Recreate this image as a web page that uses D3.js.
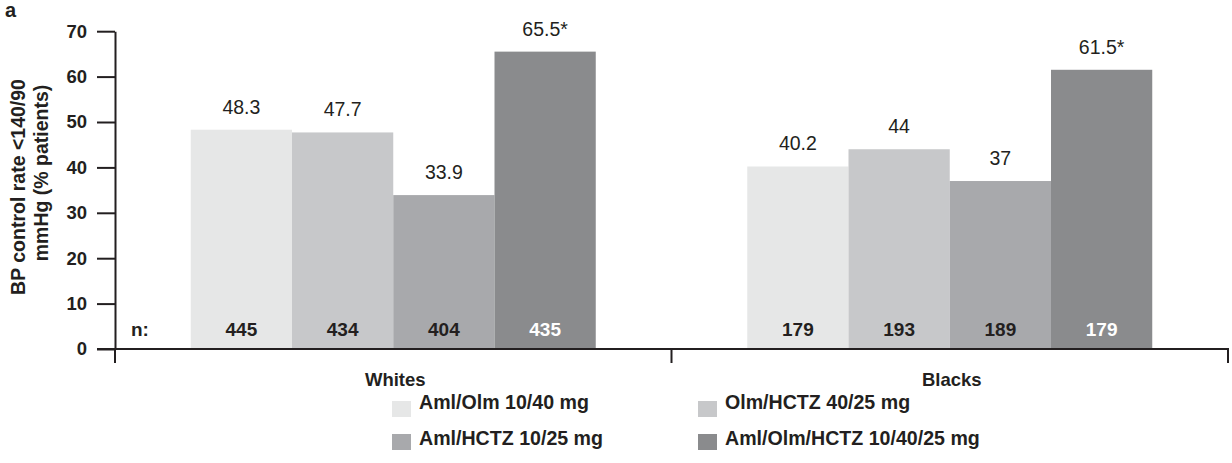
<!DOCTYPE html>
<html>
<head>
<meta charset="utf-8">
<script src="https://cdn.jsdelivr.net/npm/d3@7"></script>
<style>
  html, body { margin: 0; padding: 0; background: #fff; }
  svg { display: block; font-family: "Liberation Sans", Arial, Helvetica, sans-serif; }
</style>
</head>
<body>
<svg id="chart" width="1232" height="463"></svg>
<script>
// Blood-pressure control rate by race and treatment arm
const groups = ["Whites", "Blacks"];
const treatments = ["Aml/Olm 10/40 mg", "Olm/HCTZ 40/25 mg", "Aml/HCTZ 10/25 mg", "Aml/Olm/HCTZ 10/40/25 mg"];
const rateWhites = [48.3, 47.7, 33.9, 65.5];
const rateBlacks = [40.2, 44, 37, 61.5];
const nWhites = [445, 434, 404, 435];
const nBlacks = [179, 193, 189, 179];
const significance = ["", "", "", "*"];
const yTicks = [0, 10, 20, 30, 40, 50, 60, 70];
const colors = ["#e6e7e7", "#c7c8ca", "#a8a9ac", "#8a8b8d"];

const rows = groups.map((g, gi) => ({
  group: g,
  values: treatments.map((t, ti) => ({
    group: g,
    treatment: t,
    ti: ti,
    rate: gi === 0 ? rateWhites[ti] : rateBlacks[ti],
    n: gi === 0 ? nWhites[ti] : nBlacks[ti],
    mark: significance[ti]
  }))
}));

const ink = "#231f20";
const svg = d3.select("#chart");

const plotLeft = 115, plotRight = 1228, plotTop = 31.2, plotBase = 349;
const y = d3.scaleLinear().domain([0, 70]).range([plotBase, plotTop]);
const x0 = d3.scaleBand().domain(groups).range([plotLeft, plotRight]).padding(0);
const clusterW = 405;
const x1 = d3.scaleBand().domain(treatments)
  .range([x0.bandwidth() / 2 - clusterW / 2, x0.bandwidth() / 2 + clusterW / 2]).padding(0);
const color = d3.scaleOrdinal().domain(treatments).range(colors);

// panel letter
svg.append("text").attr("x", 5).attr("y", 17)
  .attr("font-size", 20).attr("font-weight", "bold").attr("fill", ink).text("a");

// bars
const gGroups = svg.selectAll("g.grp").data(rows).join("g")
  .attr("class", "grp")
  .attr("transform", d => `translate(${x0(d.group)},0)`);

gGroups.selectAll("rect").data(d => d.values).join("rect")
  .attr("x", d => x1(d.treatment))
  .attr("width", x1.bandwidth())
  .attr("y", d => y(d.rate))
  .attr("height", d => y(0) - y(d.rate))
  .attr("fill", d => color(d.treatment));

// value labels above bars
gGroups.selectAll("text.val").data(d => d.values).join("text")
  .attr("class", "val")
  .attr("x", d => x1(d.treatment) + x1.bandwidth() / 2)
  .attr("y", d => y(d.rate) - 16)
  .attr("text-anchor", "middle")
  .attr("font-size", 19.5)
  .attr("fill", ink)
  .text(d => d.rate + d.mark);

// sample sizes inside bars
gGroups.selectAll("text.n").data(d => d.values).join("text")
  .attr("class", "n")
  .attr("x", d => x1(d.treatment) + x1.bandwidth() / 2)
  .attr("y", 336)
  .attr("text-anchor", "middle")
  .attr("font-size", 19)
  .attr("font-weight", "bold")
  .attr("fill", d => d.ti === 3 ? "#ffffff" : ink)
  .text(d => d.n);

svg.append("text").attr("x", 131).attr("y", 336)
  .attr("font-size", 19).attr("font-weight", "bold").attr("fill", ink).text("n:");

// y axis
const yAxis = svg.append("g")
  .attr("transform", `translate(${plotLeft},0)`)
  .call(d3.axisLeft(y).tickValues(yTicks).tickSize(18).tickSizeOuter(0).tickPadding(10));
yAxis.selectAll("path.domain").attr("stroke", ink).attr("stroke-width", 2);
yAxis.selectAll(".tick line").attr("stroke", ink).attr("stroke-width", 2);
yAxis.selectAll(".tick text")
  .attr("font-size", 18.5).attr("font-weight", "bold").attr("fill", ink)
  .attr("font-family", "Liberation Sans, Arial, sans-serif");

// baseline and category dividers
svg.append("line").attr("x1", 97).attr("x2", plotRight).attr("y1", plotBase).attr("y2", plotBase)
  .attr("stroke", ink).attr("stroke-width", 2);
const edges = [x0(groups[0]), ...groups.map(g => x0(g) + x0.bandwidth())];
svg.selectAll("line.div").data(edges).join("line")
  .attr("class", "div")
  .attr("x1", d => d).attr("x2", d => d)
  .attr("y1", plotBase - 1).attr("y2", 363)
  .attr("stroke", ink).attr("stroke-width", 2);

// category labels
svg.selectAll("text.cat").data(groups).join("text")
  .attr("class", "cat")
  .attr("x", d => x0(d) + x0.bandwidth() / 2 + 2)
  .attr("y", 386)
  .attr("text-anchor", "middle")
  .attr("font-size", 18.5).attr("font-weight", "bold").attr("fill", ink)
  .text(d => d);

// y axis title
const titleLines = [
  { text: "BP control rate <140/90", x: 25, cy: 187 },
  { text: "mmHg (% patients)", x: 48, cy: 173 }
];
svg.selectAll("text.ytitle").data(titleLines).join("text")
  .attr("class", "ytitle")
  .attr("transform", d => `translate(${d.x},${d.cy}) rotate(-90)`)
  .attr("text-anchor", "middle")
  .attr("font-size", 19.5).attr("font-weight", "bold").attr("fill", ink)
  .text(d => d.text);

// legend
const legendPos = [
  { sx: 392, ty: 409, sy: 401 },
  { sx: 698, ty: 409, sy: 401 },
  { sx: 392, ty: 445, sy: 434 },
  { sx: 698, ty: 445, sy: 434 }
];
const legend = svg.selectAll("g.leg").data(treatments).join("g").attr("class", "leg");
legend.append("rect")
  .attr("x", (d, i) => legendPos[i].sx)
  .attr("y", (d, i) => legendPos[i].sy)
  .attr("width", 19).attr("height", 16)
  .attr("fill", d => color(d));
legend.append("text")
  .attr("x", (d, i) => legendPos[i].sx + 27)
  .attr("y", (d, i) => legendPos[i].ty)
  .attr("font-size", 19.6).attr("font-weight", "bold").attr("fill", ink)
  .text(d => d);
</script>
</body>
</html>
